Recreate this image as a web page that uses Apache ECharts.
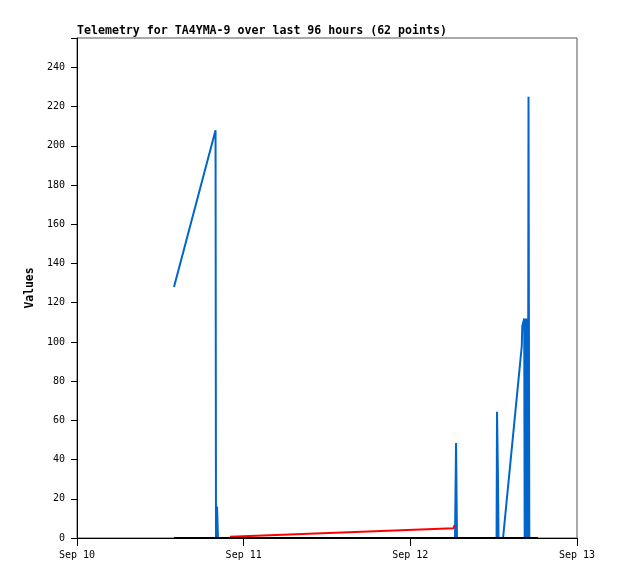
<!DOCTYPE html>
<html>
<head>
<meta charset="utf-8">
<script src="https://cdn.jsdelivr.net/npm/echarts@6/dist/echarts.min.js"></script>
<style>html,body{margin:0;padding:0;background:#fff}#c{width:618px;height:579px}</style>
</head>
<body>
<div id="c"></div>
<script>
// ---- data (UTC times, null = gap) ----
const xTickLabels = ["Sep 10", "Sep 11", "Sep 12", "Sep 13"];
const yTicks = [0, 20, 40, 60, 80, 100, 120, 140, 160, 180, 200, 220, 240];

const blueTimes = [
  "2024-09-10 13:58", "2024-09-10 19:57", "2024-09-10 20:01", "2024-09-10 20:10", "2024-09-10 20:14", "2024-09-10 20:18",
  null,
  "2024-09-12 06:26", "2024-09-12 06:35", "2024-09-12 06:43",
  null,
  "2024-09-12 12:25", "2024-09-12 12:29", "2024-09-12 12:37", "2024-09-12 12:42",
  null,
  "2024-09-12 13:21", "2024-09-12 16:03", "2024-09-12 16:07", "2024-09-12 16:24",
  "2024-09-12 16:28", "2024-09-12 16:33", "2024-09-12 16:39", "2024-09-12 16:44",
  "2024-09-12 16:49", "2024-09-12 16:56", "2024-09-12 17:01", "2024-09-12 17:08"
];
const blueValues = [
  128, 208, 0, 16, 8, 0,
  null,
  0, 48.5, 0,
  null,
  0, 64.4, 32, 0,
  null,
  0, 98, 108, 112,
  0, 112, 0, 112,
  97, 0, 225, 0
];

const redTimes = ["2024-09-10 22:02", "2024-09-12 06:13", "2024-09-12 06:22"];
const redValues = [0.7, 5.0, 6.6];

const blackTimes = ["2024-09-10 13:58", "2024-09-12 18:23"];
const blackValues = [0, 0];

// ---- helpers ----
const toMs = s => Date.parse(s.replace(' ', 'T') + ':00Z');
const DAY = 86400000;
const xMin = Date.UTC(2024, 8, 10);
const xMax = Date.UTC(2024, 8, 13);

function segments(times, values) {
  const segs = [];
  let cur = [];
  times.forEach((t, i) => {
    if (t === null) { if (cur.length) segs.push(cur); cur = []; }
    else cur.push([toMs(t), values[i]]);
  });
  if (cur.length) segs.push(cur);
  return segs;
}

const FONT = '"DejaVu Sans Mono", "Liberation Mono", monospace';
const series = [];
segments(blueTimes, blueValues).forEach(seg => series.push({
  type: 'line', data: seg, showSymbol: false, symbol: 'none', z: 2,
  lineStyle: { color: '#0066cc', width: 2 }, itemStyle: { color: '#0066cc' }
}));
series.push({
  type: 'line', data: segments(redTimes, redValues)[0], showSymbol: false, symbol: 'none', z: 3,
  lineStyle: { color: '#ff0000', width: 2 }
});
series.push({
  type: 'line', data: segments(blackTimes, blackValues)[0], showSymbol: false, symbol: 'none', z: 4,
  lineStyle: { color: '#000000', width: 2 }
});

const chart = echarts.init(document.getElementById('c'), null, { renderer: 'canvas' });
chart.setOption({
  animation: false,
  backgroundColor: '#ffffff',
  title: {
    text: 'Telemetry for TA4YMA-9 over last 96 hours (62 points)',
    left: 77, top: 25, padding: 0,
    textStyle: { fontFamily: FONT, fontSize: 11.6, fontWeight: 'bold', color: '#000' }
  },
  grid: { left: 77, right: 41, top: 38, bottom: 41, show: true, borderColor: '#555', borderWidth: 1, backgroundColor: 'transparent' },
  xAxis: {
    type: 'value', min: xMin, max: xMax, interval: DAY,
    axisLine: { lineStyle: { color: '#000', width: 1 } },
    axisTick: { show: true, length: 8, lineStyle: { color: '#000' } },
    splitLine: { show: false },
    axisLabel: {
      margin: 12, fontFamily: FONT, fontSize: 10, color: '#000',
      formatter: v => xTickLabels[Math.round((v - xMin) / DAY)] || ''
    }
  },
  yAxis: {
    type: 'value', min: 0, max: 255, interval: 20,
    name: 'Values', nameLocation: 'middle', nameGap: 39, nameRotate: 90,
    nameTextStyle: { fontFamily: FONT, fontSize: 11.4, fontWeight: 'bold', color: '#000' },
    axisLine: { show: true, lineStyle: { color: '#000', width: 1 } },
    axisTick: { show: true, length: 6, lineStyle: { color: '#000' } },
    splitLine: { show: false },
    axisLabel: {
      margin: 12, fontFamily: FONT, fontSize: 10, color: '#000',
      formatter: v => (yTicks.indexOf(v) >= 0 ? String(v) : '')
    }
  },
  series: series
});
</script>
</body>
</html>
